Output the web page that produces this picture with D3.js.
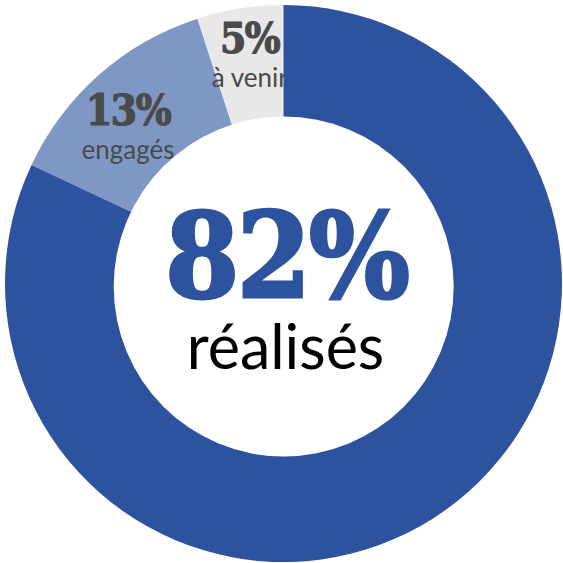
<!DOCTYPE html>
<html>
<head>
<meta charset="utf-8">
<script src="https://cdn.jsdelivr.net/npm/d3@7"></script>
<style>
  html, body { margin: 0; padding: 0; background: #fff; }
  svg { display: block; }
</style>
</head>
<body>
<div id="chart"></div>
<script>
// data
var categories = ["réalisés", "engagés", "à venir"];
var values = [82, 13, 5];
var colors = ["#2e539e", "#7f97c5", "#e8e8e8"];

// layout
var width = 563, height = 563;
var cx = 283.5, cy = 283.5;
var outerRadius = 278.5;
var holeRadius = 170;
var holeOffset = [0.2, 3];
var labelRadius = 226;
var labelNudge = [[0, 0], [-6, 3], [1.5, -15]];
var serif = "'DejaVu Serif Condensed', 'DejaVu Serif', serif";

var data = categories.map(function(c, i) { return { name: c, value: values[i], i: i }; });

var pie = d3.pie()
    .sort(null)
    .value(function(d) { return d.value; })
    (data);

var arc = d3.arc()
    .innerRadius(0)
    .outerRadius(outerRadius);

var labelArc = d3.arc()
    .innerRadius(labelRadius)
    .outerRadius(labelRadius);

var color = d3.scaleOrdinal().domain(categories).range(colors);

var svg = d3.select("#chart").append("svg")
    .attr("width", width)
    .attr("height", height);

var g = svg.append("g")
    .attr("transform", "translate(" + cx + "," + cy + ")");

// small slices first, then their labels, then the big slice on top
var small = pie.slice(1);
g.selectAll(".slice")
    .data(small)
    .enter()
    .append("path")
    .attr("class", "slice")
    .attr("d", arc)
    .style("fill", function(d) { return color(d.data.name); });

var lab = g.selectAll(".lab")
    .data(small)
    .enter()
    .append("g")
    .attr("class", "lab")
    .attr("transform", function(d) {
        var c = labelArc.centroid(d);
        var n = labelNudge[d.data.i];
        return "translate(" + (c[0] + n[0]) + "," + (c[1] + n[1]) + ")";
    });

lab.append("text")
    .attr("text-anchor", "middle")
    .attr("y", 8)
    .style("font-family", serif)
    .style("font-weight", "bold")
    .style("font-size", "42px")
    .style("letter-spacing", "-1.5px")
    .style("fill", "#4a4a4a")
    .style("stroke", "#4a4a4a")
    .style("stroke-width", 1.2)
    .text(function(d) { return d.data.value + "%"; });

lab.append("text")
    .attr("text-anchor", "middle")
    .attr("y", 42)
    .style("font-family", "Lato, sans-serif")
    .style("font-size", "26px")
    .style("fill", "#4a4a4a")
    .text(function(d) { return d.data.name; });

g.append("path")
    .datum(pie[0])
    .attr("d", arc)
    .style("fill", function(d) { return color(d.data.name); });

// hole
g.append("circle")
    .attr("cx", holeOffset[0])
    .attr("cy", holeOffset[1])
    .attr("r", holeRadius)
    .style("fill", "#fff");

// centre
g.append("text")
    .attr("text-anchor", "middle")
    .attr("x", 3)
    .attr("y", 13)
    .style("font-family", serif)
    .style("font-weight", "bold")
    .style("font-size", "118px")
    .style("letter-spacing", "-2px")
    .style("fill", "#2e539e")
    .style("stroke", "#2e539e")
    .style("stroke-width", 3)
    .text(values[0] + "%");

g.append("text")
    .attr("text-anchor", "middle")
    .attr("x", 2)
    .attr("y", 85)
    .style("font-family", "Lato, sans-serif")
    .style("font-size", "61px")
    .style("fill", "#000")
    .text(categories[0]);
</script>
</body>
</html>
